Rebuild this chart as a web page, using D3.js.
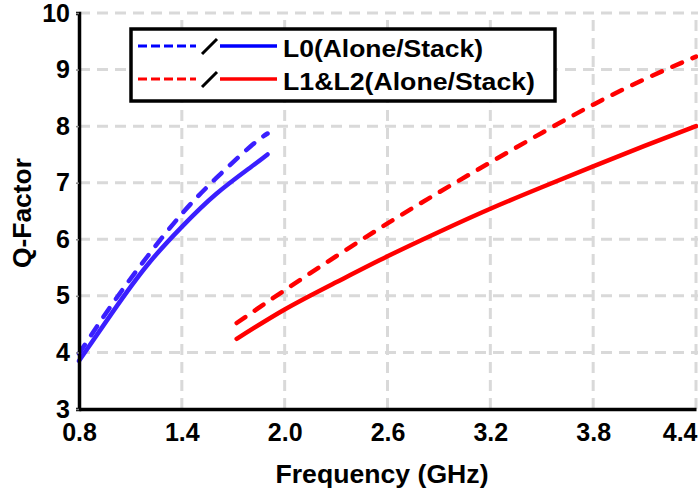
<!DOCTYPE html>
<html>
<head>
<meta charset="utf-8">
<script src="https://cdn.jsdelivr.net/npm/d3@7"></script>
<style>
  body { margin: 0; background: #fff; }
  svg { display: block; font-family: "Liberation Sans", Arial, sans-serif; font-weight: bold; }
</style>
</head>
<body>
<svg id="chart" width="698" height="490"></svg>
<script>
// data
let freqL0 = [0.8, 1.0, 1.2, 1.4, 1.6, 1.8, 1.9]
let qL0Alone = [3.98, 4.88, 5.70, 6.45, 7.08, 7.64, 7.87]
let qL0Stack = [3.85, 4.73, 5.55, 6.22, 6.80, 7.27, 7.5]

let freqL12 = [1.72, 2.0, 2.3, 2.6, 2.9, 3.2, 3.5, 3.8, 4.1, 4.4]
let qL12Alone = [4.52, 5.10, 5.70, 6.28, 6.83, 7.36, 7.88, 8.38, 8.83, 9.23]
let qL12Stack = [4.24, 4.76, 5.24, 5.70, 6.13, 6.54, 6.92, 7.29, 7.65, 8.0]

let xTicks = [0.8, 1.4, 2.0, 2.6, 3.2, 3.8, 4.4]
let yTicks = [3, 4, 5, 6, 7, 8, 9, 10]
let legendLabels = ['L0(Alone/Stack)', 'L1&L2(Alone/Stack)']

let svg = d3.select('#chart')

let x = d3.scaleLinear().domain([0.8, 4.4]).range([79, 696])
let y = d3.scaleLinear().domain([3, 10]).range([409, 13])

// grid
let grid = svg.append('g')
  .attr('stroke', '#d9d9d9')
  .attr('stroke-width', 3)
  .attr('stroke-dasharray', '11,7')

grid.selectAll('.vg')
  .data(xTicks.slice(1))
  .enter()
  .append('line')
  .attr('x1', d => x(d)).attr('x2', d => x(d))
  .attr('y1', y(3)).attr('y2', y(10))

grid.selectAll('.hg')
  .data(yTicks.slice(1))
  .enter()
  .append('line')
  .attr('x1', x(0.8)).attr('x2', 698)
  .attr('y1', d => y(d)).attr('y2', d => y(d))

// curves (dashed = alone, solid = stack)
let series = [
  { f: freqL0, q: qL0Alone, color: '#3a1fff', dash: '10.5,11.5' },
  { f: freqL0, q: qL0Stack, color: '#3a1fff', dash: null },
  { f: freqL12, q: qL12Alone, color: '#ff0000', dash: '10.5,11.5' },
  { f: freqL12, q: qL12Stack, color: '#ff0000', dash: null }
]

let line = d3.line()
  .x(d => x(d[0]))
  .y(d => y(d[1]))
  .curve(d3.curveNatural)

svg.append('g')
  .selectAll('path')
  .data(series)
  .enter()
  .append('path')
  .attr('d', s => line(s.f.map((f, i) => [f, s.q[i]])))
  .attr('fill', 'none')
  .attr('stroke', s => s.color)
  .attr('stroke-width', 4.5)
  .attr('stroke-linecap', 'round')
  .attr('stroke-dasharray', s => s.dash)

// axes
let xAxis = svg.append('g')
  .attr('transform', `translate(0,${y(3)})`)
  .call(d3.axisBottom(x).tickValues(xTicks).tickFormat(d3.format('.1f')).tickSize(0).tickPadding(14))
xAxis.select('.domain').attr('stroke', '#000').attr('stroke-width', 3.5)
xAxis.selectAll('text').attr('font-size', 25).attr('font-family', null).attr('font-weight', 'bold').attr('fill', '#000')
// last label sits against the right edge
xAxis.selectAll('.tick').filter(d => d === 4.4).select('text')
  .attr('text-anchor', 'end').attr('x', 697 - x(4.4))

let yAxis = svg.append('g')
  .attr('transform', `translate(${x(0.8)},0)`)
  .call(d3.axisLeft(y).tickValues(yTicks).tickFormat(d3.format('d')).tickSize(3).tickPadding(6))
yAxis.select('.domain').attr('stroke', '#000').attr('stroke-width', 3.5)
yAxis.selectAll('.tick line').attr('stroke', '#888').attr('stroke-width', 1.5)
yAxis.selectAll('text').attr('font-size', 25).attr('font-family', null).attr('font-weight', 'bold').attr('fill', '#000')

// axis titles
svg.append('text')
  .attr('x', 382).attr('y', 483)
  .attr('text-anchor', 'middle')
  .attr('font-size', 25)
  .attr('textLength', 213).attr('lengthAdjust', 'spacingAndGlyphs')
  .text('Frequency (GHz)')

svg.append('text')
  .attr('transform', 'translate(31,213) rotate(-90)')
  .attr('text-anchor', 'middle')
  .attr('font-size', 25)
  .attr('textLength', 110).attr('lengthAdjust', 'spacingAndGlyphs')
  .text('Q-Factor')

// legend
let legend = svg.append('g')
legend.append('rect')
  .attr('x', 131).attr('y', 29)
  .attr('width', 424).attr('height', 72)
  .attr('fill', '#fff')
  .attr('stroke', '#000')
  .attr('stroke-width', 3.5)

let legendColors = ['#0000ff', '#ff0000']
let rows = legend.selectAll('.row')
  .data(legendLabels)
  .enter()
  .append('g')
  .attr('transform', (d, i) => `translate(0,${46 + i * 33})`)

rows.append('line')
  .attr('x1', 138).attr('x2', 196).attr('y1', 0).attr('y2', 0)
  .attr('stroke', (d, i) => legendColors[i])
  .attr('stroke-width', 3)
  .attr('stroke-dasharray', '9,4')

rows.append('line')
  .attr('x1', 202).attr('x2', 217).attr('y1', 8).attr('y2', -7)
  .attr('stroke', '#000')
  .attr('stroke-width', 3)

rows.append('line')
  .attr('x1', 220).attr('x2', 277).attr('y1', 0).attr('y2', 0)
  .attr('stroke', (d, i) => legendColors[i])
  .attr('stroke-width', 3.5)

rows.append('text')
  .attr('x', 283).attr('y', 10.5)
  .attr('font-size', 24)
  .attr('textLength', (d, i) => i === 0 ? 200 : 252)
  .attr('lengthAdjust', 'spacingAndGlyphs')
  .text(d => d)
</script>
</body>
</html>
